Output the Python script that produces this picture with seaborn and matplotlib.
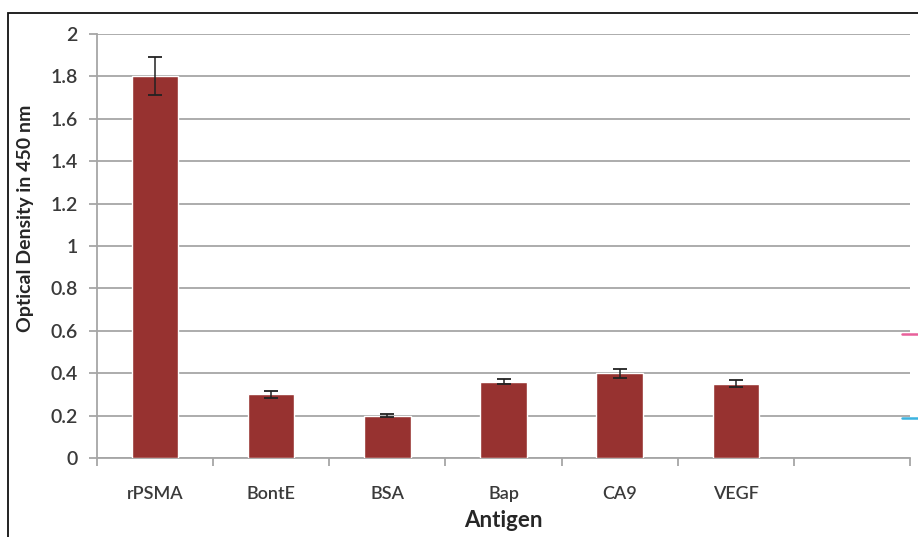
import matplotlib
matplotlib.use("Agg")
import matplotlib.pyplot as plt
import matplotlib.patches as mpatches
import matplotlib.transforms as mtransforms
from matplotlib.ticker import FixedLocator
import seaborn as sns
import pandas as pd
import numpy as np

# ELISA readout per antigen
antigens = ["rPSMA", "BontE", "BSA", "Bap", "CA9", "VEGF"]
od_values = [1.80, 0.30, 0.20, 0.36, 0.40, 0.35]
od_errors = [0.09, 0.015, 0.008, 0.013, 0.022, 0.017]
y_ticks = [0, 0.2, 0.4, 0.6, 0.8, 1, 1.2, 1.4, 1.6, 1.8, 2]
y_tick_labels = ["0", "0.2", "0.4", "0.6", "0.8", "1", "1.2", "1.4", "1.6", "1.8", "2"]
# reference level markers at the right edge
edge_levels = [0.585, 0.19]
edge_colors = ["#e8609a", "#3bb3e0"]

df = pd.DataFrame({"Antigen": antigens, "OD": od_values, "err": od_errors})

sns.set_theme(style="white")
plt.rcParams["font.family"] = ["Lato", "DejaVu Sans"]

fig = plt.figure(figsize=(9.18, 5.37), dpi=100)
ax = fig.add_axes([0.1057, 0.1471, 0.8856, 0.7896])

bar_color = "#973230"
sns.barplot(data=df, x="Antigen", y="OD", order=antigens, color=bar_color,
            width=0.4, saturation=1, errorbar=None, ax=ax, zorder=3)
ax.errorbar(np.arange(len(antigens)), df["OD"], yerr=df["err"], fmt="none",
            ecolor="#222222", elinewidth=1.1, capsize=5, capthick=1.3, zorder=4)

# one empty slot on the right, as in the spreadsheet layout
ax.set_xlim(-0.5, len(antigens) + 0.5)
ax.set_ylim(0, 2)
ax.set_yticks(y_ticks)
ax.set_yticklabels(y_tick_labels)

ax.yaxis.grid(True, color="#a6a6a6", linewidth=1.3, zorder=0)
ax.set_axisbelow(True)

for side in ["top", "right"]:
    ax.spines[side].set_visible(False)
ax.spines["left"].set_color("#a6a6a6")
ax.spines["bottom"].set_color("#a6a6a6")
ax.spines["left"].set_linewidth(1.3)
ax.spines["bottom"].set_linewidth(1.3)

ax.tick_params(axis="x", which="major", length=0, pad=20, labelsize=13, labelcolor="#3a3a3a")
ax.xaxis.set_minor_locator(FixedLocator(np.arange(-0.5, len(antigens) + 1, 1)))
ax.tick_params(axis="x", which="minor", bottom=True, length=6, width=1.3, color="#a6a6a6")
ax.tick_params(axis="y", which="major", left=True, length=6, width=1.3, color="#a6a6a6",
               labelsize=14, labelcolor="#3a3a3a", pad=8)
for lbl in ax.get_xticklabels() + ax.get_yticklabels():
    lbl.set_fontweight("semibold")

ax.set_xlabel("Antigen", fontsize=16, fontweight="bold", color="#262626", labelpad=6)
ax.set_ylabel("Optical Density in 450 nm", fontsize=14, fontweight="bold", color="#262626")
ax.yaxis.set_label_coords(-0.077, 0.566)

# small coloured level marks past the end of the plot area
edge_tf = mtransforms.blended_transform_factory(ax.transAxes, ax.transData)
for lvl, col in zip(edge_levels, edge_colors):
    ax.plot([0.99, 1.02], [lvl, lvl], transform=edge_tf, color=col,
            linewidth=1.8, clip_on=False, zorder=5)

# outer frame of the chart area
frame = mpatches.Rectangle((8 / 918, -0.05), 1.2, 1 - 13 / 537 + 0.05,
                           transform=fig.transFigure, fill=False,
                           edgecolor="#111111", linewidth=1.3, clip_on=False)
fig.patches.append(frame)

fig.savefig("out.png", dpi=100)
